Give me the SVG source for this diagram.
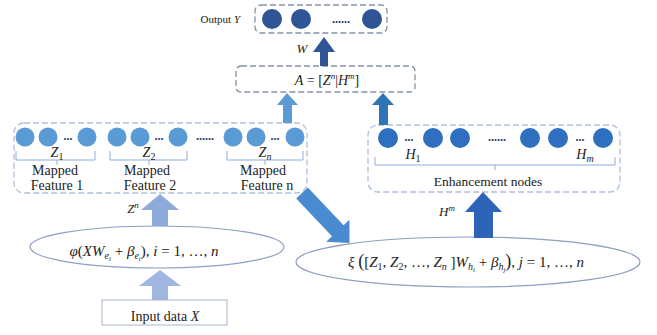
<svg xmlns="http://www.w3.org/2000/svg" width="657" height="335" viewBox="0 0 657 335">
<style>
text{font-family:"Liberation Serif","Times New Roman",serif;fill:#222;}
.it{font-style:italic;}
.dash{fill:none;stroke:#8592a6;stroke-width:1.3;stroke-dasharray:6 3;}
.dashl{fill:none;stroke:#aebfdc;stroke-width:1.3;stroke-dasharray:6 3;}
.brace{fill:none;stroke:#8eaadb;stroke-width:1;}
.ell{fill:#fff;stroke:#8e9fbf;stroke-width:1.2;}
.cOut{fill:#2f5597;}
.cMap{fill:#5b9bd5;}
.cEnh{fill:#2e6fbf;}
.dots{font-weight:bold;fill:#203864;}
</style>
<rect width="657" height="335" fill="#fff"/>

<g id="output">
  <text x="240" y="23" font-size="11" text-anchor="end">Output <tspan class="it">Y</tspan></text>
  <rect class="dash" x="255" y="5" width="132" height="28" rx="6"/>
  <circle class="cOut" cx="272" cy="19" r="10"/>
  <circle class="cOut" cx="301" cy="19" r="10"/>
  <text class="dots" x="341" y="23" font-size="12" text-anchor="middle">......</text>
  <circle class="cOut" cx="372" cy="19" r="10"/>
</g>

<g id="A">
  <rect class="dash" x="236" y="66" width="179" height="26" rx="5"/>
  <text x="327" y="85" font-size="14" text-anchor="middle"><tspan class="it">A</tspan> = [<tspan class="it">Z</tspan><tspan class="it" font-size="9" dy="-6">n</tspan><tspan dy="6">|</tspan><tspan class="it">H</tspan><tspan class="it" font-size="9" dy="-6">m</tspan><tspan dy="6">]</tspan></text>
</g>

<g id="mapped">
  <rect class="dashl" x="14" y="123" width="293" height="70" rx="10"/>
  <circle class="cMap" cx="25" cy="137" r="9.5"/>
  <circle class="cMap" cx="48" cy="137" r="9.5"/>
  <text class="dots" x="68" y="140" font-size="12" text-anchor="middle">...</text>
  <circle class="cMap" cx="87" cy="137" r="9.5"/>
  <circle class="cMap" cx="117" cy="137" r="9.5"/>
  <circle class="cMap" cx="140" cy="137" r="9.5"/>
  <text class="dots" x="159" y="140" font-size="12" text-anchor="middle">...</text>
  <circle class="cMap" cx="178" cy="137" r="9.5"/>
  <text class="dots" x="205" y="140" font-size="12" text-anchor="middle">......</text>
  <circle class="cMap" cx="233" cy="137" r="9.5"/>
  <circle class="cMap" cx="256" cy="137" r="9.5"/>
  <text class="dots" x="275" y="140" font-size="12" text-anchor="middle">...</text>
  <circle class="cMap" cx="295" cy="137" r="9.5"/>
  <path class="brace" d="M16 151V160H95V151M57 160V165"/>
  <path class="brace" d="M110 151V160H187V151M149 160V165"/>
  <path class="brace" d="M227 151V160H303V151M265 160V165"/>
  <text x="57" y="157" font-size="14" text-anchor="middle"><tspan class="it">Z</tspan><tspan font-size="10" dy="3">1</tspan></text>
  <text x="149" y="157" font-size="14" text-anchor="middle"><tspan class="it">Z</tspan><tspan font-size="10" dy="3">2</tspan></text>
  <text x="265" y="157" font-size="14" text-anchor="middle"><tspan class="it">Z</tspan><tspan class="it" font-size="10" dy="3">n</tspan></text>
  <text x="55" y="175" font-size="14" text-anchor="middle">Mapped</text>
  <text x="57" y="190" font-size="14" text-anchor="middle">Feature 1</text>
  <text x="147" y="175" font-size="14" text-anchor="middle">Mapped</text>
  <text x="150" y="190" font-size="14" text-anchor="middle">Feature 2</text>
  <text x="263" y="175" font-size="14" text-anchor="middle">Mapped</text>
  <text x="267" y="190" font-size="14" text-anchor="middle">Feature n</text>
</g>

<g id="enhancement">
  <rect class="dashl" x="368" y="125" width="252" height="67" rx="10"/>
  <circle class="cEnh" cx="388" cy="138" r="10"/>
  <text class="dots" x="409" y="141" font-size="12" text-anchor="middle">...</text>
  <circle class="cEnh" cx="433" cy="138" r="10"/>
  <circle class="cEnh" cx="460" cy="138" r="10"/>
  <text class="dots" x="497" y="141" font-size="12" text-anchor="middle">......</text>
  <circle class="cEnh" cx="530" cy="138" r="10"/>
  <circle class="cEnh" cx="558" cy="138" r="10"/>
  <text class="dots" x="580" y="141" font-size="12" text-anchor="middle">...</text>
  <circle class="cEnh" cx="603" cy="138" r="10"/>
  <path class="brace" d="M375 157V165H615V157M495 165V170"/>
  <text x="413" y="159" font-size="14" text-anchor="middle"><tspan class="it">H</tspan><tspan font-size="10" dy="3">1</tspan></text>
  <text x="585" y="159" font-size="14" text-anchor="middle"><tspan class="it">H</tspan><tspan class="it" font-size="10" dy="3">m</tspan></text>
  <text x="488" y="186" font-size="13.5" text-anchor="middle">Enhancement nodes</text>
</g>

<g id="feature-map">
  <ellipse class="ell" cx="157" cy="247" rx="127" ry="21"/>
  <text x="144" y="256" font-size="15" text-anchor="middle"><tspan class="it">φ</tspan>(<tspan class="it">XW</tspan><tspan class="it" font-size="10" dy="3">e</tspan><tspan class="it" font-size="7" dy="2">i</tspan><tspan dy="-5"> + </tspan><tspan class="it">β</tspan><tspan class="it" font-size="10" dy="3">e</tspan><tspan class="it" font-size="7" dy="2">i</tspan><tspan dy="-5">), </tspan><tspan class="it">i</tspan> = 1, …, <tspan class="it">n</tspan></text>
</g>

<g id="enhancement-map">
  <ellipse class="ell" cx="468" cy="262" rx="172" ry="25"/>
  <text x="466" y="267" font-size="15" text-anchor="middle"><tspan class="it">ξ</tspan> <tspan font-size="18">(</tspan>[<tspan class="it">Z</tspan><tspan font-size="10" dy="3">1</tspan><tspan dy="-3">, </tspan><tspan class="it">Z</tspan><tspan font-size="10" dy="3">2</tspan><tspan dy="-3">, …, </tspan><tspan class="it">Z</tspan><tspan class="it" font-size="10" dy="3">n</tspan><tspan dy="-3"> ]</tspan><tspan class="it">W</tspan><tspan class="it" font-size="10" dy="3">h</tspan><tspan class="it" font-size="7" dy="2">i</tspan><tspan dy="-5"> + </tspan><tspan class="it">β</tspan><tspan class="it" font-size="10" dy="3">h</tspan><tspan class="it" font-size="7" dy="2">j</tspan><tspan dy="-5" font-size="18">)</tspan>, <tspan class="it">j</tspan> = 1, …, <tspan class="it">n</tspan></text>
</g>

<g id="input">
  <rect x="102" y="300" width="125" height="25" fill="#fff" stroke="#a7b6cc" stroke-width="1"/>
  <text x="165" y="321" font-size="14" text-anchor="middle">Input data <tspan class="it">X</tspan></text>
</g>

<g id="connectors">
  <polygon fill="#2f5597" points="324,37 335,52 328,52 328,66 320,66 320,52 313,52"/>
  <text class="it" x="302" y="53" font-size="13" text-anchor="middle">W</text>
  <polygon fill="#5b9bd5" points="287,93 298,105 292,105 292,123 283,123 283,105 277,105"/>
  <polygon fill="#2e75b6" points="383,93 394,105 388,105 388,125 379,125 379,105 372,105"/>
  <polygon fill="#8eaadb" points="160,194 179,210 168,210 168,226 152,226 152,210 141,210"/>
  <text x="133" y="213" font-size="13" text-anchor="middle"><tspan class="it">Z</tspan><tspan class="it" font-size="9" dy="-5">n</tspan></text>
  <polygon fill="#9fb6e0" points="160,270 181,286 168,286 168,300 152,300 152,286 139,286"/>
  <polygon fill="#2e64b8" points="483,192 502,212 493,212 493,238 474,238 474,212 465,212"/>
  <text x="447" y="216" font-size="13" text-anchor="middle"><tspan class="it">H</tspan><tspan class="it" font-size="9" dy="-5">m</tspan></text>
  <polygon fill="#4a8ad0" transform="translate(302,193) rotate(46.5)" points="0,-8 52,-8 52,-16 69,0 52,16 52,8 0,8"/>
</g>
</svg>
